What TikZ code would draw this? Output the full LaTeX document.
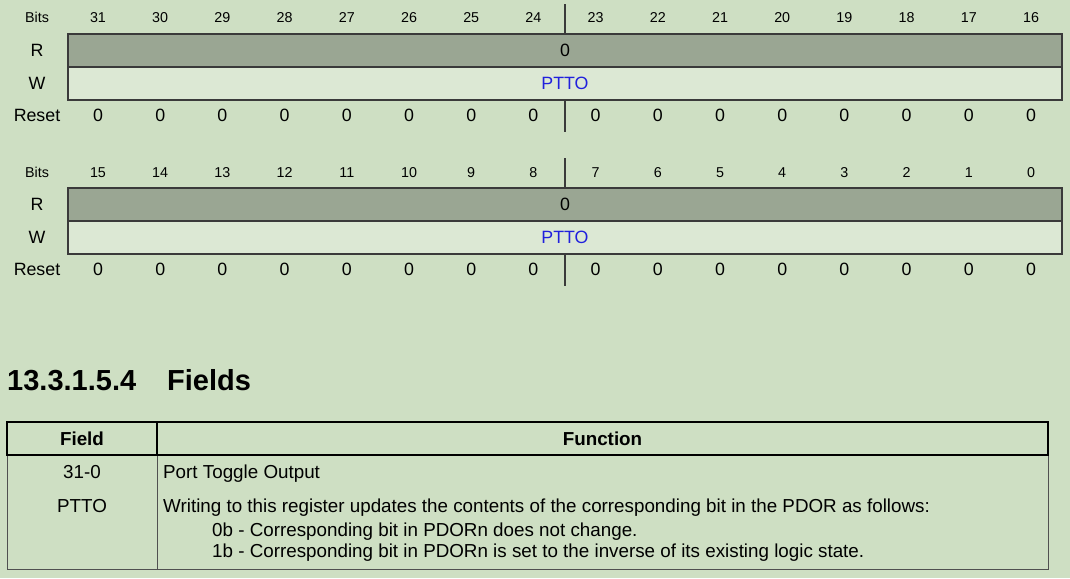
\documentclass[tikz,border=0pt]{standalone}
\usepackage{fontspec}
\setmainfont{Liberation Sans}
\usetikzlibrary{positioning}

\definecolor{pagebg}{HTML}{CEDFC3}
\definecolor{rowgray}{HTML}{9AA693}
\definecolor{rowlight}{HTML}{DCE8D4}
\definecolor{fieldblue}{HTML}{2020DD}
\definecolor{gridline}{HTML}{3A3A3A}
\definecolor{tabline}{HTML}{505050}

\newcommand{\bitfont}{\fontsize{14.3}{16}\selectfont}
\newcommand{\regfont}{\fontsize{17.8}{20}\selectfont}
\newcommand{\tabfont}{\fontsize{18.8}{21}\selectfont}
\newcommand{\headfont}{\fontsize{29}{32}\selectfont\bfseries}

\tikzset{
  txt/.style={inner sep=0pt, anchor=base},
  bitnum/.style={txt, font=\bitfont},
  reglabel/.style={txt, font=\regfont},
  rrow/.style={draw=gridline, line width=1.2pt, fill=rowgray, inner sep=0pt, outer sep=0pt,
    minimum width=994pt, minimum height=33pt, font=\regfont},
  wrow/.style={rrow, fill=rowlight, text=fieldblue},
  midline/.style={draw=gridline, line width=1.2pt},
  bodycell/.style={draw=tabline, line width=0.9pt, inner sep=0pt, outer sep=0pt, minimum height=114pt},
  headcell/.style={draw=black, line width=1.8pt, inner sep=0pt, outer sep=0pt, minimum height=33pt,
    font=\tabfont\bfseries},
  tabtxt/.style={txt, font=\tabfont},
}

\begin{document}
\begin{tikzpicture}[x=1pt, y=-1pt]

    % Page
    \fill[pagebg] (0,0) rectangle (1070,578);
    \useasboundingbox (0,0) rectangle (1070,578);

    % Register rows
    \foreach \blk/\oy/\hi in {1/0/31, 2/154/15} {
        \node (bits\blk) [bitnum] at (37,23+\oy) {Bits};
        \node (rlab\blk) [reglabel] at (37,56.5+\oy) {R};
        \node (wlab\blk) [reglabel] at (37,89.5+\oy) {W};
        \node (reset\blk) [reglabel] at (37,121.3+\oy) {Reset};

        \node (rrow\blk) [rrow] at (565,50.5+\oy) {0};
        \node (wrow\blk) [wrow, below=0pt of rrow\blk] {PTTO};

        \foreach \k [evaluate=\k as \n using int(\hi-\k)] in {0,...,15} {
            \node (bit\blk-\k) [bitnum] at (98+62.2*\k,23+\oy) {\n};
            \node (rst\blk-\k) [reglabel] at (98+62.2*\k,121.3+\oy) {0};
        }

        \draw[midline] (rrow\blk.north) -- +(0,-30);
        \draw[midline] (wrow\blk.south) -- +(0,32);
    }

    % Heading
    \node (secnum) [txt, anchor=base west, font=\headfont] at (7,390) {13.3.1.5.4};
    \node (sectitle) [txt, anchor=base west, font=\headfont] at (167,390) {Fields};

    % Table cells
    \node (fieldbody) [bodycell, minimum width=150pt] at (82,512) {};
    \node (funcbody) [bodycell, minimum width=891pt, right=0pt of fieldbody] {};
    \node (fieldhd) [headcell, minimum width=150pt, above=0pt of fieldbody] {Field};
    \node (funchd) [headcell, minimum width=891pt, above=0pt of funcbody] {Function};

    % Table text
    \node (fbits) [tabtxt] at (82,478) {31-0};
    \node (fname) [tabtxt] at (82,512) {PTTO};
    \node (fdesc) [tabtxt, anchor=base west] at (163,478) {Port Toggle Output};
    \node (fwrite) [tabtxt, anchor=base west] at (163,512) {Writing to this register updates the contents of the corresponding bit in the PDOR as follows:};
    \node (fzero) [tabtxt, anchor=base west] at (212,536) {0b - Corresponding bit in PDORn does not change.};
    \node (fone) [tabtxt, anchor=base west] at (212,557) {1b - Corresponding bit in PDORn is set to the inverse of its existing logic state.};

\end{tikzpicture}
\end{document}
